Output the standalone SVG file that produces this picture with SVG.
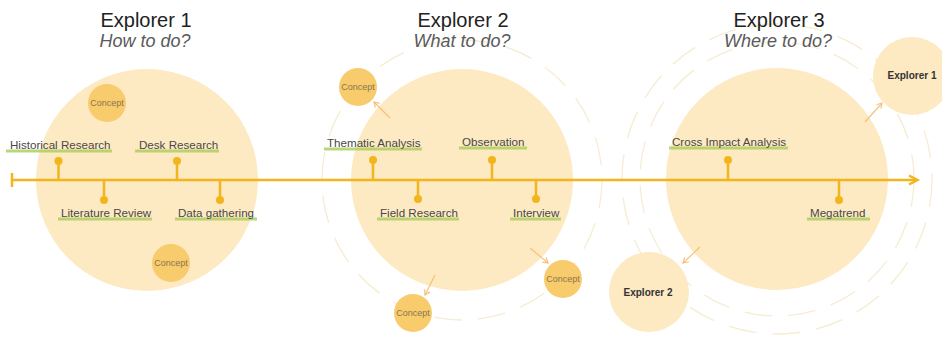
<svg xmlns="http://www.w3.org/2000/svg" width="942" height="342" viewBox="0 0 942 342">
<defs>
<style>
.big{fill:#fde9c2}
.small{fill:#fde9c2}
.concept{fill:#f8cb6c}
.ring{fill:none;stroke:#f6ecd2;stroke-width:1.3;stroke-dasharray:28 16}
.title{font-family:"Liberation Sans",Arial,sans-serif;font-size:20px;fill:#222;text-anchor:middle}
.sub{font-family:"Liberation Sans",Arial,sans-serif;font-size:18px;font-style:italic;fill:#5a5a5a;text-anchor:middle}
.lbl{font-family:"Liberation Sans",Arial,sans-serif;font-size:11.6px;fill:#484848}
.ul{fill:#a9cc5a;opacity:0.8}
.ctext{font-family:"Liberation Sans",Arial,sans-serif;font-size:9px;fill:#8a7550;text-anchor:middle}
.etext{font-family:"Liberation Sans",Arial,sans-serif;font-size:10px;font-weight:bold;fill:#333;text-anchor:middle}
.tl{stroke:#f2b51c;stroke-width:2.5;fill:none}
.dot{fill:#f2b51c}
.arr{stroke:#f6c27a;stroke-width:1.2;fill:none;marker-end:url(#ah)}
</style>
<marker id="ah" markerWidth="8" markerHeight="8" refX="6" refY="4" orient="auto" markerUnits="userSpaceOnUse">
<path d="M1,1 L6,4 L1,7" fill="none" stroke="#f6c27a" stroke-width="1.2"/>
</marker>
</defs>
<rect width="942" height="342" fill="#ffffff"/>

<g id="rings">
<circle class="ring" cx="462" cy="180" r="140"/>
<circle class="ring" cx="777" cy="179" r="137"/>
<circle class="ring" cx="777" cy="179" r="155"/>
</g>

<g id="explorer1">
<circle class="big" cx="147" cy="180" r="111"/>
<text class="title" x="146" y="27">Explorer 1</text>
<text class="sub" x="145" y="47">How to do?</text>
</g>
<g id="explorer2">
<circle class="big" cx="462" cy="180" r="111"/>
<text class="title" x="463" y="27">Explorer 2</text>
<text class="sub" x="462" y="47">What to do?</text>
</g>
<g id="explorer3">
<circle class="big" cx="777" cy="179" r="111"/>
<text class="title" x="779" y="27">Explorer 3</text>
<text class="sub" x="778" y="47">Where to do?</text>
</g>

<g id="concept-e1-top"><circle class="concept" cx="107" cy="103" r="19"/><text class="ctext" x="107" y="106">Concept</text></g>
<g id="concept-e1-bottom"><circle class="concept" cx="171" cy="263" r="19"/><text class="ctext" x="171" y="266">Concept</text></g>
<g id="concept-e2-topleft"><circle class="concept" cx="358" cy="87" r="19"/><text class="ctext" x="358" y="90">Concept</text></g>
<g id="concept-e2-right"><circle class="concept" cx="563" cy="279" r="19"/><text class="ctext" x="563" y="282">Concept</text></g>
<g id="concept-e2-bottom"><circle class="concept" cx="413" cy="313" r="19"/><text class="ctext" x="413" y="316">Concept</text></g>

<g id="explorer1-small"><circle class="small" cx="912" cy="76" r="39"/><text class="etext" x="912" y="79">Explorer 1</text></g>
<g id="explorer2-small"><circle class="small" cx="649" cy="292" r="40"/><text class="etext" x="648" y="296">Explorer 2</text></g>

<g id="connectors">
<line class="tl" x1="12" y1="180" x2="917" y2="180"/>
<line class="tl" x1="12" y1="173" x2="12" y2="187"/>
<path class="tl" d="M909,175.5 L917.5,180 L909,184.5"/>
<line class="tl" x1="58.5" y1="161" x2="58.5" y2="180"/>
<line class="tl" x1="177" y1="161" x2="177" y2="180"/>
<line class="tl" x1="104" y1="180" x2="104" y2="200"/>
<line class="tl" x1="220" y1="180" x2="220" y2="200"/>
<line class="tl" x1="373" y1="160" x2="373" y2="180"/>
<line class="tl" x1="492" y1="160" x2="492" y2="180"/>
<line class="tl" x1="418" y1="180" x2="418" y2="199"/>
<line class="tl" x1="536" y1="180" x2="536" y2="199"/>
<line class="tl" x1="728" y1="160" x2="728" y2="180"/>
<line class="tl" x1="839" y1="180" x2="839" y2="200"/>
<circle class="dot" cx="58.5" cy="161" r="4"/>
<circle class="dot" cx="177" cy="161" r="4"/>
<circle class="dot" cx="104" cy="200" r="4"/>
<circle class="dot" cx="220" cy="200" r="4"/>
<circle class="dot" cx="373" cy="160" r="4"/>
<circle class="dot" cx="492" cy="160" r="4"/>
<circle class="dot" cx="418" cy="199" r="4"/>
<circle class="dot" cx="536" cy="199" r="4"/>
<circle class="dot" cx="728" cy="160" r="4"/>
<circle class="dot" cx="839" cy="200" r="4"/>
<line class="arr" x1="390" y1="118" x2="374" y2="102"/>
<line class="arr" x1="530" y1="248" x2="548" y2="263"/>
<line class="arr" x1="435" y1="275" x2="425" y2="295"/>
<line class="arr" x1="865" y1="122" x2="882" y2="103"/>
<line class="arr" x1="700" y1="247" x2="683" y2="263"/>
</g>

<g id="label-historical"><rect class="ul" x="6" y="149.5" width="106" height="3"/><text class="lbl" x="10" y="149">Historical Research</text></g>
<g id="label-desk"><rect class="ul" x="135" y="149.5" width="84" height="3"/><text class="lbl" x="139" y="149">Desk Research</text></g>
<g id="label-literature"><rect class="ul" x="58" y="217.5" width="94" height="3"/><text class="lbl" x="61" y="217">Literature Review</text></g>
<g id="label-data"><rect class="ul" x="175" y="217.5" width="82" height="3"/><text class="lbl" x="178" y="217">Data gathering</text></g>
<g id="label-thematic"><rect class="ul" x="324" y="147.5" width="98" height="3"/><text class="lbl" x="327" y="147">Thematic Analysis</text></g>
<g id="label-observation"><rect class="ul" x="459" y="146.5" width="68" height="3"/><text class="lbl" x="462" y="146">Observation</text></g>
<g id="label-field"><rect class="ul" x="377" y="217.5" width="82" height="3"/><text class="lbl" x="380" y="217">Field Research</text></g>
<g id="label-interview"><rect class="ul" x="510" y="217.5" width="51" height="3"/><text class="lbl" x="513" y="217">Interview</text></g>
<g id="label-cross"><rect class="ul" x="669" y="146.5" width="119" height="3"/><text class="lbl" x="672" y="146">Cross Impact Analysis</text></g>
<g id="label-megatrend"><rect class="ul" x="807" y="217.5" width="63" height="3"/><text class="lbl" x="810" y="217">Megatrend</text></g>
</svg>
